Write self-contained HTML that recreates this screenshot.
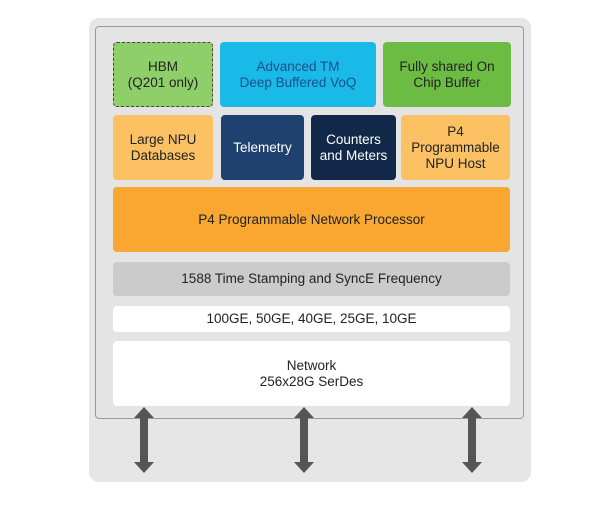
<!DOCTYPE html>
<html><head><style>
body{margin:0;width:600px;height:526px;background:#fff;position:relative;font-family:"Liberation Sans",sans-serif;overflow:hidden}
.b{position:absolute;display:flex;align-items:center;justify-content:center;text-align:center;border-radius:4px;font-size:13.5px;line-height:16px;box-sizing:border-box}
</style></head><body>
<div style="position:absolute;left:89px;top:18px;width:442px;height:464px;background:#e6e6e6;border-radius:10px"></div>
<div style="position:absolute;left:95px;top:26px;width:429px;height:393px;background:#e4e4e4;border:1px solid #9a9a9a;border-radius:4px;box-sizing:border-box"></div>
<div class="b" style="left:113px;top:42px;width:100px;height:65px;background:#8fcf6a;border:1.5px dashed #444;color:#222">HBM<br>(Q201 only)</div>
<div class="b" style="left:220px;top:42px;width:156px;height:65px;background:#19b9e8;color:#1d4f8a">Advanced TM<br>Deep Buffered VoQ</div>
<div class="b" style="left:383px;top:42px;width:128px;height:65px;background:#6cbc44;color:#222">Fully shared On<br>Chip Buffer</div>
<div class="b" style="left:113px;top:115px;width:100px;height:65px;background:#fbc163;color:#222">Large NPU<br>Databases</div>
<div class="b" style="left:221px;top:115px;width:83px;height:65px;background:#1f416f;color:#fff">Telemetry</div>
<div class="b" style="left:311px;top:115px;width:85px;height:65px;background:#122849;color:#fff">Counters<br>and Meters</div>
<div class="b" style="left:401px;top:115px;width:109px;height:65px;background:#fbc163;color:#222">P4<br>Programmable<br>NPU Host</div>
<div class="b" style="left:113px;top:187px;width:397px;height:65px;background:#f9a730;color:#222">P4 Programmable Network Processor</div>
<div class="b" style="left:113px;top:262px;width:397px;height:34px;background:#cbcbcb;color:#222">1588 Time Stamping and SyncE Frequency</div>
<div class="b" style="left:113px;top:306px;width:397px;height:26px;background:#fff;color:#222">100GE, 50GE, 40GE, 25GE, 10GE</div>
<div class="b" style="left:113px;top:341px;width:397px;height:65px;background:#fff;color:#222">Network<br>256x28G SerDes</div>
<svg style="position:absolute;left:0;top:0" width="600" height="526">
<g fill="#555">
<polygon points="144,407 154,418 148,418 148,462 154,462 144,473 134,462 140,462 140,418 134,418"/>
<polygon points="304,407 314,418 308,418 308,462 314,462 304,473 294,462 300,462 300,418 294,418"/>
<polygon points="472,407 482,418 476,418 476,462 482,462 472,473 462,462 468,462 468,418 462,418"/>
</g></svg>
</body></html>
